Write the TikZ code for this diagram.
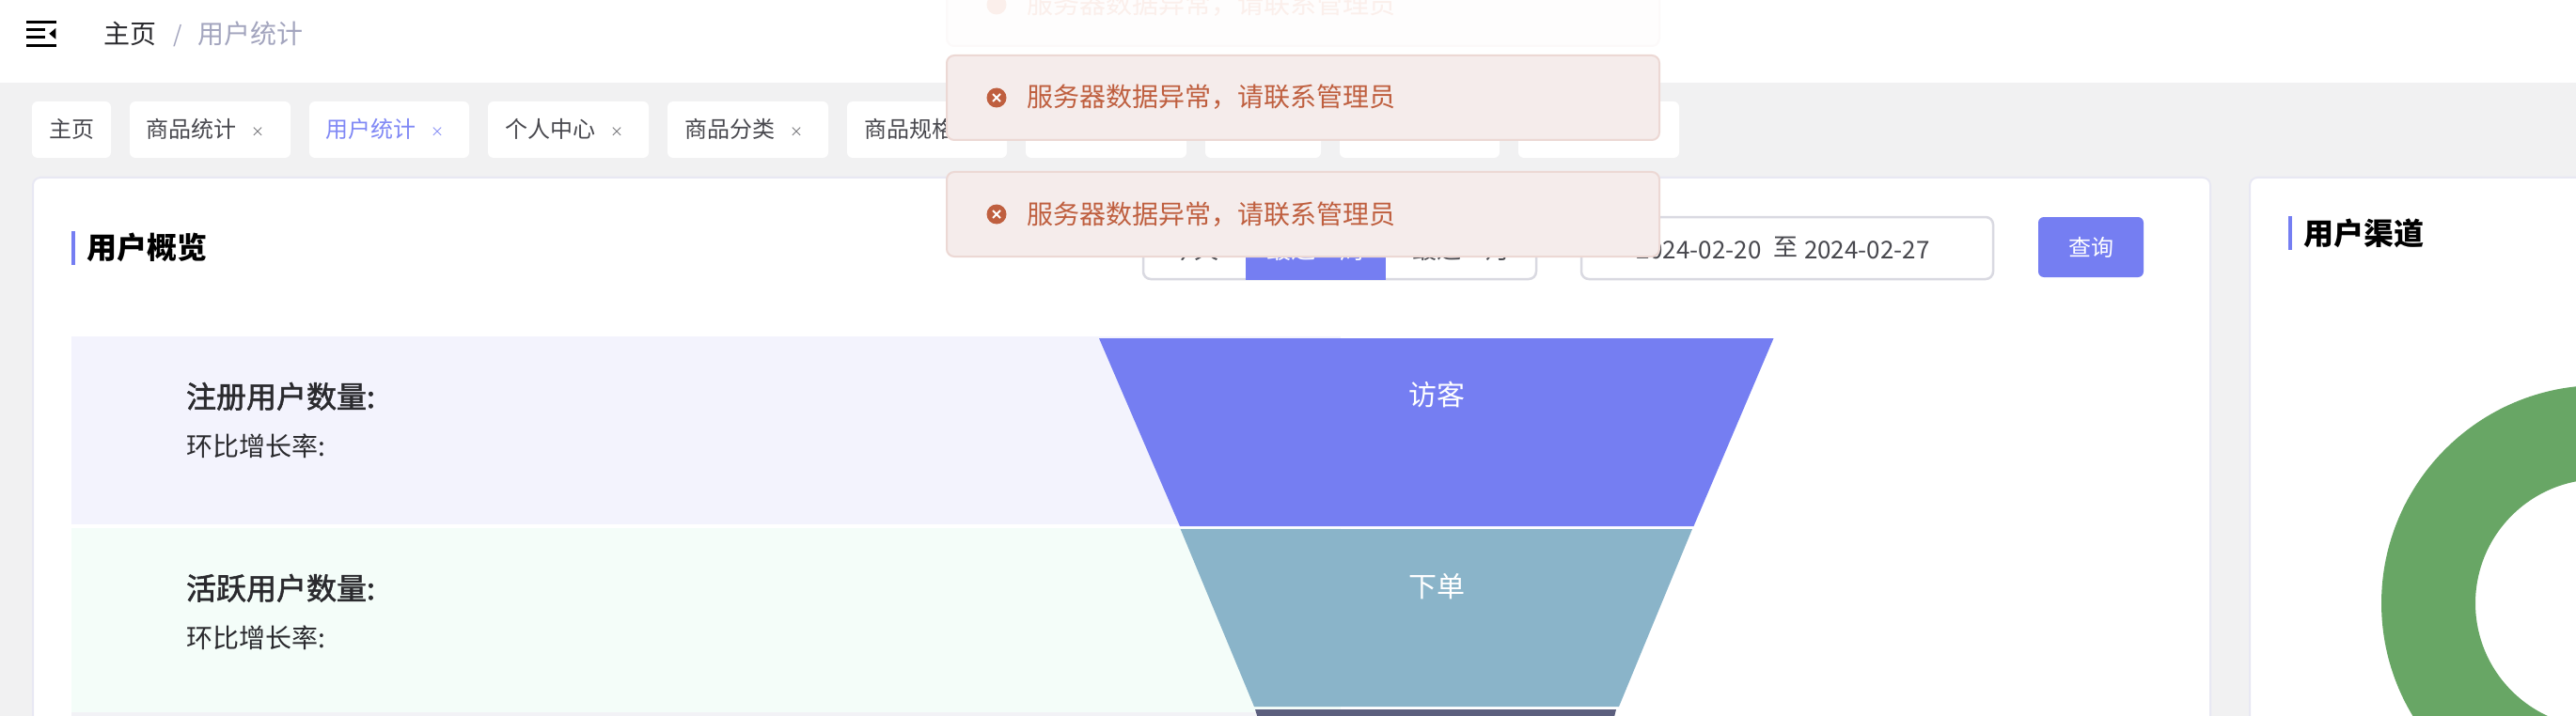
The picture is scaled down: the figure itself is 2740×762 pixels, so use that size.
\documentclass[tikz,border=0pt]{standalone}
\usepackage{fontspec}
\setmainfont{Noto Sans CJK SC}
\newfontfamily\midfont[FakeBold=1.8]{Noto Sans CJK SC}
\newcommand{\fsz}[1]{\fontsize{#1}{#1}\selectfont}
\definecolor{pagebg}{HTML}{F1F1F2}
\definecolor{cardline}{HTML}{E8E8F3}
\definecolor{accent}{HTML}{757EF2}
\definecolor{activetxt}{HTML}{8088F5}
\definecolor{inkdark}{HTML}{2A2A2E}
\definecolor{tabink}{HTML}{48484E}
\definecolor{crumb}{HTML}{A3A5BE}
\definecolor{toastfill}{HTML}{F5ECEB}
\definecolor{toastline}{HTML}{ECD8D4}
\definecolor{toastink}{HTML}{BF5F3F}
\definecolor{fadefill}{HTML}{FEFDFD}
\definecolor{fadeline}{HTML}{FCF9F9}
\definecolor{fadeink}{HTML}{FBEFEB}
\definecolor{inputline}{HTML}{D9D9E1}
\definecolor{rowa}{HTML}{F3F3FD}
\definecolor{rowb}{HTML}{F4FDF9}
\definecolor{rowc}{HTML}{F2F2F6}
\definecolor{funa}{HTML}{757EF2}
\definecolor{funb}{HTML}{8AB4C9}
\definecolor{func}{HTML}{5C5F7E}
\definecolor{donut}{HTML}{68A665}
\tikzset{
  txt/.style={inner sep=0pt,outer sep=0pt,anchor=base west},
  ctr/.style={inner sep=0pt,outer sep=0pt,anchor=base},
  tabbox/.style={fill=white,rounded corners=6pt},
  tabtxt/.style={txt,font=\fsz{24},text=tabink},
  tabx/.style={ctr,font=\fsz{14},text=tabink!80},
  card/.style={fill=white,draw=cardline,line width=2pt,rounded corners=8pt},
  toast/.style={fill=toastfill,draw=toastline,line width=2pt,rounded corners=8pt},
  toasttxt/.style={txt,font=\fsz{28},text=toastink},
  field/.style={fill=white,draw=inputline,line width=2.5pt,rounded corners=8pt},
  heading/.style={txt,font=\fsz{32}\bfseries,text=black},
  rowhead/.style={txt,font=\midfont\fsz{32},text=inkdark},
  rowsub/.style={txt,font=\fsz{28},text=inkdark},
  funlabel/.style={ctr,font=\fsz{30},text=white},
}
\begin{document}
\begin{tikzpicture}[x=1pt,y=-1pt]
\useasboundingbox (0,0) rectangle (2740,762);
\clip (0,0) rectangle (2740,762);
% page
\fill[pagebg] (0,0) rectangle (2740,762);
\fill[white] (0,0) rectangle (2740,88);
% menu icon
\fill[black] (28,22) rectangle (60,25);
\fill[black] (28,30) rectangle (48,33);
\fill[black] (28,38.5) rectangle (48,41.5);
\fill[black] (28,47) rectangle (60,50);
\fill[black] (52.3,35.8) -- (59.3,30) -- (59.3,41.7) -- cycle;
% breadcrumb
\node[txt,font=\fsz{28},text=inkdark] (crumbhome) at (110.5,47) {主页};
\node[txt,font=\fsz{24},text=crumb] (crumbsep) at (184,46) {/};
\node[txt,font=\fsz{28},text=crumb] (crumbuser) at (210.5,47) {用户统计};
% tabs
\foreach \a/\b in {34/118,138/309,329/499,519/690,710/881,901/1071,1091/1262,1282/1405,1425/1595,1615/1786}
  \fill[tabbox] (\a,108) rectangle (\b,168);
\node[tabtxt] (tabhome) at (52,147) {主页};
\node[tabtxt] (tabgoods) at (155.5,147) {商品统计};
\node[tabx] (tabgoodsx) at (274,146) {×};
\node[tabtxt,text=activetxt] (tabuser) at (346.5,147) {用户统计};
\node[tabx,text=activetxt] (tabuserx) at (465,146) {×};
\node[tabtxt] (tabme) at (537.5,147) {个人中心};
\node[tabx] (tabmex) at (656,146) {×};
\node[tabtxt] (tabcat) at (728.5,147) {商品分类};
\node[tabx] (tabcatx) at (847,146) {×};
\node[tabtxt] (tabspec) at (919.5,147) {商品规格};
% cards
\draw[card] (35,189) rectangle (2351,800);
\draw[card] (2393,189) rectangle (2800,800);
% overview heading
\fill[accent] (76,246) rectangle (80,282);
\node[heading] (overview) at (92,275) {用户概览};
\fill[accent] (2434,230) rectangle (2438,266);
\node[heading] (channel) at (2450,260) {用户渠道};
% range buttons
\draw[field] (1216,231) rectangle (1634,297);
\fill[accent] (1325,230) rectangle (1474,298);
\node[ctr,font=\fsz{26},text=tabink] (today) at (1270,275) {今天};
\node[ctr,font=\fsz{26},text=white] (week) at (1399,275) {最近一周};
\node[ctr,font=\fsz{26},text=tabink] (month) at (1554,275) {最近一月};
% date input
\draw[field] (1682,231) rectangle (2120,297);
\node[txt,font=\fsz{26},text=tabink] (datefrom) at (1740,275) {2024-02-20};
\node[ctr,font=\fsz{26},text=tabink] (dateto) at (1899,272) {至};
\node[txt,font=\fsz{26},text=tabink] (dateend) at (1919,275) {2024-02-27};
% query
\fill[accent,rounded corners=6pt] (2168,231) rectangle (2280,295);
\node[ctr,font=\fsz{24},text=white] (query) at (2224,272) {查询};
% rows
\fill[rowa] (76,358) rectangle (1426,558);
\fill[rowb] (76,562) rectangle (1426,758);
\fill[rowc] (76,758) rectangle (1426,762);
\node[rowhead] (rega) at (198,434) {注册用户数量:};
\node[rowsub] (regb) at (198.5,485) {环比增长率:};
\node[rowhead] (acta) at (198,638) {活跃用户数量:};
\node[rowsub] (actb) at (198.5,689) {环比增长率:};
% funnel
\fill[funa] (1169,360) -- (1886.5,360) -- (1801.5,560) -- (1255,560) -- cycle;
\fill[funb] (1255.6,563) -- (1800,563) -- (1722,752) -- (1334,752) -- cycle;
\fill[func] (1335,755) -- (1719,755) -- (1717,763) -- (1337.6,763) -- cycle;
\node[funlabel] (visitor) at (1528,431) {访客};
\node[funlabel] (order) at (1528,635) {下单};
% donut
\fill[donut,even odd rule] (2765,642) circle[radius=232] (2765,642) circle[radius=132];
% toasts
\draw[fill=fadefill,draw=fadeline,line width=2pt,rounded corners=8pt] (1007,-42) rectangle (1765,49);
\fill[fadeink] (1060,5) circle[radius=10.5];
\node[txt,font=\fsz{28},text=fadeink] (msgfade) at (1092,15) {服务器数据异常，请联系管理员};
\draw[toast] (1007,59) rectangle (1765,149);
\fill[toastink] (1060,104) circle[radius=10.5];
\draw[white,line width=2pt] (1056,100) -- (1064,108) (1064,100) -- (1056,108);
\node[toasttxt] (msga) at (1092,114) {服务器数据异常，请联系管理员};
\draw[toast] (1007,183) rectangle (1765,273);
\fill[toastink] (1060,228) circle[radius=10.5];
\draw[white,line width=2pt] (1056,224) -- (1064,232) (1064,224) -- (1056,232);
\node[toasttxt] (msgb) at (1092,238) {服务器数据异常，请联系管理员};
\end{tikzpicture}
\end{document}
